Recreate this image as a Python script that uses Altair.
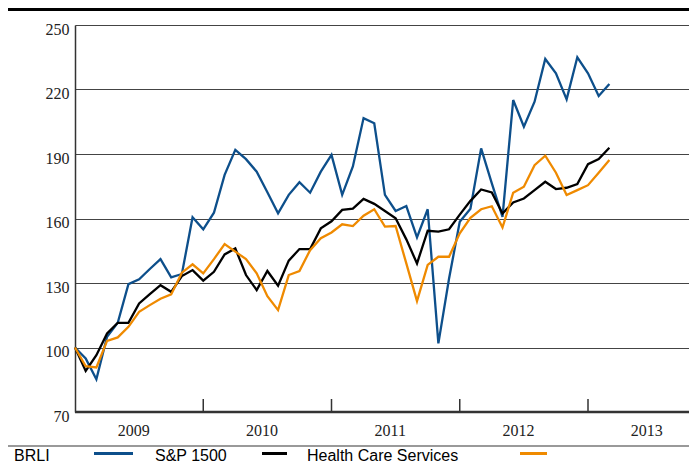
import altair as alt
import pandas as pd

months = list(range(51))
brli = [100, 94.9, 85.2, 105, 111.5, 129.5, 131.7, 136.5, 141.1, 132.6, 134.2, 160.6, 155,
        162.7, 180.3, 191.9, 187.6, 181.8, 172.2, 162.4, 171, 176.9, 172, 181.8, 189.6,
        171, 184.2, 206.7, 204.3, 171, 163.5, 165.8, 151.2, 164.3, 101.9, 132.1, 158.5,
        164.5, 192.6, 176.3, 160.8, 215.1, 202.7, 214.3, 234.2, 227.5, 215.4, 235, 227.5,
        217, 222.6]
sp1500 = [100, 89.1, 96.4, 106.5, 111.5, 111.5, 120.5, 124.8, 129, 125.9, 133.2, 136, 131.1,
          135.2, 143.3, 146.1, 133.7, 126.7, 135.6, 128.7, 140.4, 145.8, 145.8, 155.4, 158.7,
          164, 164.6, 169.1, 166.8, 163.5, 160.1, 150.3, 139.1, 154.3, 153.9, 155, 161.8,
          168.2, 173.5, 172.1, 162.3, 167.5, 169.3, 173.2, 177.1, 173.7, 174.3, 176, 185.3,
          187.6, 192.9]
hcs = [100, 91.3, 90.7, 103.1, 104.7, 109.6, 116.6, 119.7, 122.7, 124.7, 134.8, 138.7, 134.5,
       141.1, 148.1, 144.6, 141.1, 134.5, 123.9, 117.4, 133.7, 135.6, 145.3, 150.8, 153.5,
       157.3, 156.5, 161.3, 164.3, 156.2, 156.5, 139.1, 121.6, 138.4, 142.2, 142.2, 153.1,
       160.3, 164.3, 165.7, 155.8, 172, 174.8, 184.8, 189.2, 181.3, 170.9, 173.2, 175.5,
       181.3, 187.2]

series_names = ["BRLI", "S&P 1500", "Health Care Services"]
series_colors = ["#0d4f8b", "#000000", "#ef8a00"]
years = ["2009", "2010", "2011", "2012", "2013"]
year_centers = [5.5, 17.5, 29.5, 41.5, 53.5]
year_ticks = [12, 24, 36, 48]
y_ticks = [70, 100, 130, 160, 190, 220, 250]

W, H = 614, 387

rows = []
for name, vals in zip(series_names, [brli, sp1500, hcs]):
    for m, v in zip(months, vals):
        rows.append({"month": m, "value": v, "series": name})
df = pd.DataFrame(rows)

xscale = alt.Scale(domain=[0, 57.45], nice=False, zero=False)
yscale = alt.Scale(domain=[70, 250], nice=False, zero=False)

base_axis = alt.Axis(values=y_ticks, title=None, ticks=False, domain=True,
                     domainColor="#333", domainWidth=1.5, grid=True,
                     gridColor="#444", gridWidth=1.2,
                     labelFont="Liberation Serif", labelFontSize=16,
                     labelColor="#222", labelPadding=6, labelOffset=4)

lines = alt.Chart(df).mark_line(strokeWidth=2.3).encode(
    x=alt.X("month:Q", scale=xscale, axis=None),
    y=alt.Y("value:Q", scale=yscale, axis=base_axis),
    color=alt.Color("series:N", scale=alt.Scale(domain=series_names, range=series_colors),
                    legend=None),
    order=alt.Order("month:Q"),
    detail="series:N",
)

one = pd.DataFrame({"k": [0]})

xline = alt.Chart(one).mark_rule(color="#333", strokeWidth=2.5).encode(
    x=alt.value(0), x2=alt.value(W), y=alt.value(H))

tick_df = pd.DataFrame({"month": year_ticks})
ticks = alt.Chart(tick_df).mark_rule(color="#333", strokeWidth=1.5).encode(
    x=alt.X("month:Q", scale=xscale), y=alt.value(H - 13), y2=alt.value(H))

year_df = pd.DataFrame({"month": year_centers, "year": years})
year_text = alt.Chart(year_df).mark_text(font="Liberation Serif", fontSize=16,
                                         color="#222", baseline="middle").encode(
    x=alt.X("month:Q", scale=xscale), y=alt.value(406), text="year:N")

top_line = alt.Chart(one).mark_rule(color="#000", strokeWidth=3).encode(
    x=alt.value(-67), x2=alt.value(W), y=alt.value(-15.5))
gray_line = alt.Chart(one).mark_rule(color="#777", strokeWidth=1.5).encode(
    x=alt.value(-67), x2=alt.value(W), y=alt.value(421))

legend_layers = []
text_x = [-61, 80, 232]
swatch_x = [(19, 58), (187, 212), (445, 472)]
for name, color, tx, (sx1, sx2) in zip(series_names, series_colors, text_x, swatch_x):
    legend_layers.append(
        alt.Chart(one).mark_text(font="Liberation Sans", fontSize=16, color="#000",
                                 align="left", baseline="alphabetic").encode(
            x=alt.value(tx), y=alt.value(436), text=alt.value(name)))
    legend_layers.append(
        alt.Chart(one).mark_rule(color=color, strokeWidth=3).encode(
            x=alt.value(sx1), x2=alt.value(sx2), y=alt.value(428.5)))

chart = alt.layer(lines, xline, ticks, year_text, top_line, gray_line,
                  *legend_layers).properties(
    width=W, height=H,
    padding={"left": 67, "top": 17, "right": 0, "bottom": 53},
    autosize=alt.AutoSizeParams(type="none"),
).configure_view(stroke=None).configure(background="white")

chart.save("out.html", embed_options={"renderer": "svg", "actions": False})
